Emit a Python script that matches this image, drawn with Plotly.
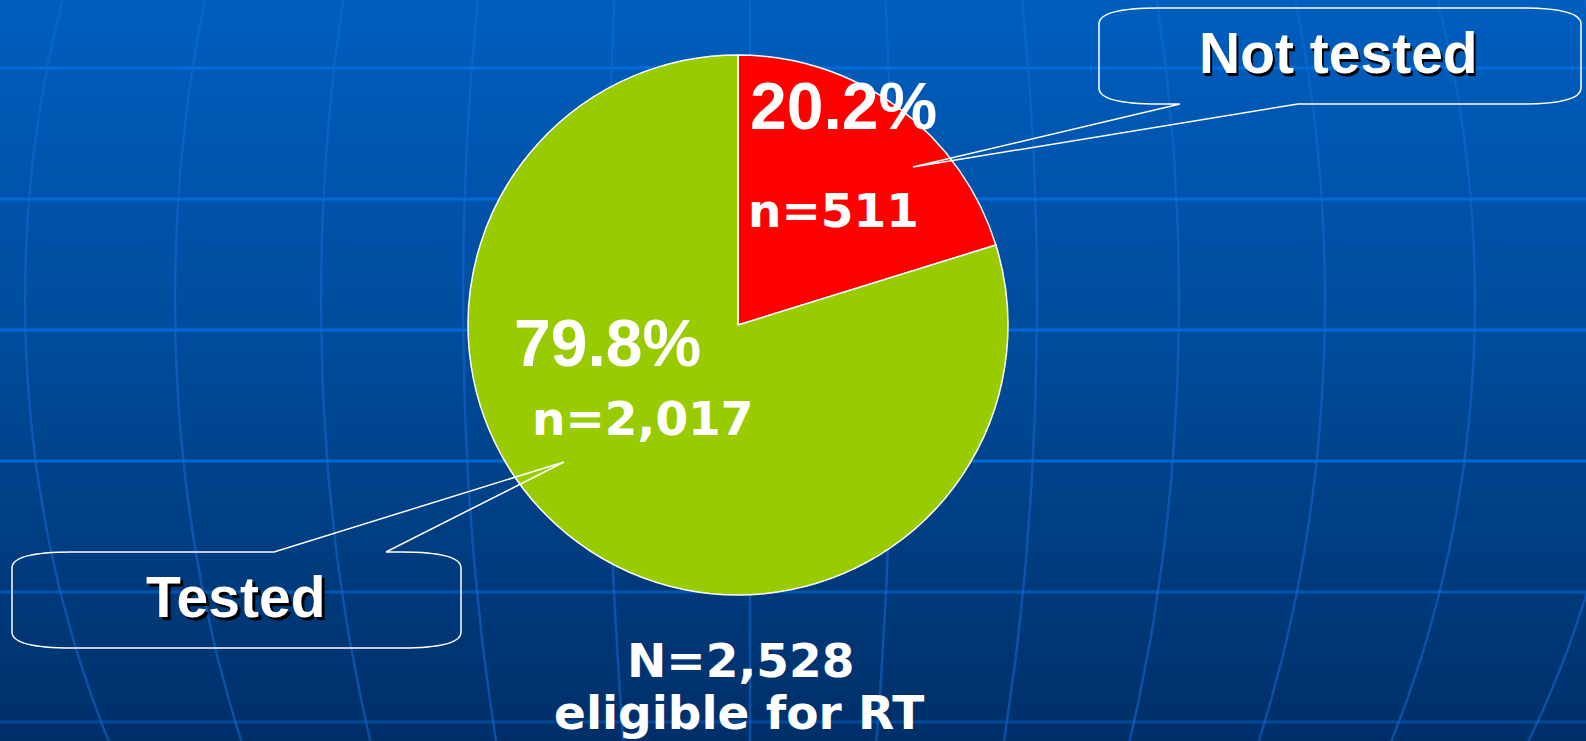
import math
import plotly.graph_objects as go

# data
groups = ["Not tested", "Tested"]
counts = [511, 2017]
slice_colors = ["#FF0000", "#99CC00"]
caption = "eligible for RT"

W, H = 1586, 741

total = sum(counts)
shares = [c / total * 100 for c in counts]

# background globe grid (decoration)
lat_lines = [68, 199, 330, 461, 592, 722]
lat_alpha = [0.9, 0.9, 0.9, 0.85, 0.55, 0.4]
lon_offsets = [-880, -725, -575, -429, -287, -143, 0, 143, 287, 429, 575, 725, 880]
globe_cx, globe_cy, globe_ry = 750, 300, 946


def callout_path(x0, y0, x1, y1, bases, tip, side, rx=60, ry=16):
    b1, b2 = bases
    tx, ty = tip
    if side == "bottom":
        top = f"M{x0 + rx},{y0} L{x1 - rx},{y0} "
        bottom = f"L{b2},{y1} L{tx},{ty} L{b1},{y1} L{x0 + rx},{y1} "
    else:
        top = f"M{x0 + rx},{y0} L{b1},{y0} L{tx},{ty} L{b2},{y0} L{x1 - rx},{y0} "
        bottom = f"L{x0 + rx},{y1} "
    return (
        top
        + f"Q{x1},{y0} {x1},{y0 + ry} L{x1},{y1 - ry} Q{x1},{y1} {x1 - rx},{y1} "
        + bottom
        + f"Q{x0},{y1} {x0},{y1 - ry} L{x0},{y0 + ry} Q{x0},{y0} {x0 + rx},{y0} Z"
    )


fig = go.Figure()

# gradient background
fig.add_trace(
    go.Heatmap(
        x=[0, W],
        y=[0, H],
        z=[[0, 0], [1, 1]],
        zsmooth="best",
        colorscale=[[0, "#005EBF"], [0.45, "#004C9C"], [1, "#002F68"]],
        showscale=False,
        hoverinfo="skip",
    )
)

for y, a in zip(lat_lines, lat_alpha):
    fig.add_trace(
        go.Scatter(
            x=[0, W], y=[y, y], mode="lines",
            line=dict(color=f"rgba(0,110,225,{a})", width=3),
            hoverinfo="skip", showlegend=False,
        )
    )

ys = list(range(0, H + 1, 20)) + [H]
for off in lon_offsets:
    xs = [globe_cx + off * math.sqrt(1 - ((y - globe_cy) / globe_ry) ** 2) for y in ys]
    fig.add_trace(
        go.Scatter(
            x=xs, y=ys, mode="lines",
            line=dict(color="rgba(20,105,215,0.55)", width=2.5),
            hoverinfo="skip", showlegend=False,
        )
    )

# the pie
cx, cy, r = 738, 325, 270
fig.add_trace(
    go.Pie(
        labels=groups,
        values=counts,
        marker=dict(colors=slice_colors, line=dict(color="white", width=1.5)),
        sort=False,
        direction="clockwise",
        rotation=0,
        textinfo="none",
        hoverinfo="label+value+percent",
        showlegend=False,
        domain=dict(x=[(cx - r) / W, (cx + r) / W], y=[(H - cy - r) / H, (H - cy + r) / H]),
    )
)

# callouts
fig.add_shape(
    type="path",
    path=callout_path(1099, 8, 1581, 104, (1180, 1298), (913, 167), "bottom"),
    line=dict(color="white", width=1.5),
    fillcolor="rgba(0,0,0,0)",
    layer="above",
)
fig.add_shape(
    type="path",
    path=callout_path(12, 552, 461, 648, (274, 386), (564, 462), "top"),
    line=dict(color="white", width=1.5),
    fillcolor="rgba(0,0,0,0)",
    layer="above",
)

arial = "Liberation Sans, Arial, sans-serif"
verdana = "DejaVu Sans, Verdana, sans-serif"


def label(text, x, y, size, family, shadow=False):
    if shadow:
        fig.add_annotation(
            x=x, y=y, text=f"<b>{text}</b>", showarrow=False, xshift=2.5, yshift=-2.5,
            font=dict(family=family, size=size, color="black"),
        )
    fig.add_annotation(
        x=x, y=y, text=f"<b>{text}</b>", showarrow=False,
        font=dict(family=family, size=size, color="white"),
    )


label(f"{shares[0]:.1f}%", 843, 106, 66, arial)
label(f"n={counts[0]:,}", 833, 210, 47, verdana)
label(f"{shares[1]:.1f}%", 607, 343, 66, arial)
label(f"n={counts[1]:,}", 643, 418, 47, verdana)
label(groups[0], 1338, 53, 57, arial, shadow=True)
label(groups[1], 236, 597, 57, arial, shadow=True)
label(f"N={total:,}", 740, 660, 47, verdana)
label(caption, 739, 712, 47, verdana)

fig.update_layout(
    width=W,
    height=H,
    margin=dict(l=0, r=0, t=0, b=0),
    paper_bgcolor="#00478F",
    plot_bgcolor="#00478F",
    xaxis=dict(range=[0, W], visible=False, fixedrange=True),
    yaxis=dict(range=[H, 0], visible=False, fixedrange=True),
    showlegend=False,
)

fig.write_html(
    "out.html",
    config={"displayModeBar": False},
    post_script="document.body.style.margin='0';document.body.style.overflow='hidden';",
)
